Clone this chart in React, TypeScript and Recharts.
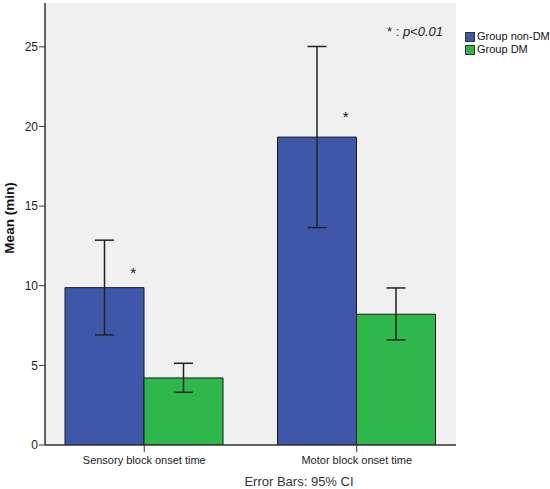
import React from 'react';
import { ComposedChart, Bar, Scatter, XAxis, YAxis, ErrorBar, CartesianGrid, Label } from 'recharts';

const categories = ['Sensory block onset time', 'Motor block onset time'];
const nonDmMean = [9.88, 19.33];
const nonDmLower = [6.91, 13.65];
const nonDmUpper = [12.86, 25.02];
const dmMean = [4.21, 8.21];
const dmLower = [3.31, 6.6];
const dmUpper = [5.13, 9.86];
const starValues = [10.99, 20.79];
const yTicks = [0, 5, 10, 15, 20, 25];
const yMax = 27.75;
const seriesNames = ['Group non-DM', 'Group DM'];
const seriesColors = ['#3F57A9', '#2EB84B'];

const data = categories.map((c, i) => ({
  category: c,
  nonDm: nonDmMean[i],
  nonDmErr: [nonDmMean[i] - nonDmLower[i], nonDmUpper[i] - nonDmMean[i]],
  dm: dmMean[i],
  dmErr: [dmMean[i] - dmLower[i], dmUpper[i] - dmMean[i]],
  star: starValues[i],
}));

const FONT = '"Liberation Sans", Arial, sans-serif';
const AXIS = '#333333';

const StarShape = (props: any) => {
  const { cx, cy } = props;
  if (cx == null || cy == null) return null;
  return (
    <text x={cx - 11} y={cy + 8} fontSize={15} fill="#111" textAnchor="middle" fontFamily={FONT}>
      *
    </text>
  );
};

export default function App() {
  return (
    <div style={{ position: 'absolute', left: 0, top: 0, width: 550, height: 489, background: '#fff', fontFamily: FONT }}>
      <ComposedChart
        width={550}
        height={489}
        data={data}
        margin={{ top: 3, right: 94, bottom: 14, left: 0 }}
        barGap={0}
        barSize={79}
      >
        <CartesianGrid fill="#F0F0F0" horizontal={false} vertical={false} />
        <XAxis
          dataKey="category"
          padding={{ left: -7, right: -7 }}
          height={30}
          tickSize={7}
          tickMargin={4}
          tick={{ fontSize: 11, fill: '#222', fontFamily: FONT }}
          axisLine={{ stroke: AXIS, strokeWidth: 1.5 }}
          tickLine={{ stroke: AXIS }}
        >
          <Label
            content={(p: any) => {
              const vb = p.viewBox;
              return (
                <text x={vb.x + vb.width / 2 + 48.5} y={vb.y + 40.5} fontSize={13} fill="#333" textAnchor="middle" fontFamily={FONT}>
                  Error Bars: 95% CI
                </text>
              );
            }}
          />
        </XAxis>
        <XAxis
          xAxisId="top"
          dataKey="category"
          orientation="top"
          height={0}
          tick={false}
          tickLine={false}
          axisLine={{ stroke: AXIS, strokeWidth: 1.2 }}
        />
        <YAxis
          domain={[0, yMax]}
          ticks={yTicks}
          width={45}
          tickSize={6}
          tickMargin={1}
          allowDataOverflow
          tick={{ fontSize: 12, fill: '#222', fontFamily: FONT }}
          axisLine={{ stroke: AXIS, strokeWidth: 1.5 }}
          tickLine={{ stroke: AXIS }}
        >
          <Label
            content={(p: any) => {
              const vb = p.viewBox;
              const cx = 9;
              const cy = vb.y + vb.height / 2 - 6;
              return (
                <text
                  x={cx}
                  y={cy}
                  transform={`rotate(-90 ${cx} ${cy})`}
                  fontSize={13.5}
                  fontWeight="bold"
                  fill="#111"
                  textAnchor="middle"
                  dominantBaseline="central"
                  fontFamily={FONT}
                >
                  Mean (min)
                </text>
              );
            }}
          />
        </YAxis>
        <YAxis
          yAxisId="right"
          orientation="right"
          domain={[0, yMax]}
          width={0}
          tick={false}
          tickLine={false}
          axisLine={{ stroke: AXIS, strokeWidth: 1.2 }}
        />
        <Bar dataKey="nonDm" name={seriesNames[0]} fill={seriesColors[0]} stroke="#1a1a1a" strokeWidth={1} isAnimationActive={false}>
          <ErrorBar dataKey="nonDmErr" width={9.5} stroke="#222" strokeWidth={1.5} direction="y" />
        </Bar>
        <Bar dataKey="dm" name={seriesNames[1]} fill={seriesColors[1]} stroke="#1a1a1a" strokeWidth={1} isAnimationActive={false}>
          <ErrorBar dataKey="dmErr" width={9.5} stroke="#222" strokeWidth={1.5} direction="y" />
        </Bar>
        <Scatter dataKey="star" shape={StarShape} isAnimationActive={false} legendType="none" />
      </ComposedChart>
      <div
        style={{
          position: 'absolute',
          right: 107,
          top: 24.5,
          fontSize: 13,
          lineHeight: '13px',
          color: '#222',
          whiteSpace: 'nowrap',
        }}
      >
        {'* : '}
        <i>p&lt;0.01</i>
      </div>
      <div style={{ position: 'absolute', left: 465, top: 30, fontSize: 11, color: '#111', lineHeight: '13px' }}>
        {seriesNames.map((n, i) => (
          <div key={n} style={{ display: 'flex', alignItems: 'center', height: 13 }}>
            <span
              style={{
                display: 'inline-block',
                width: 8,
                height: 8,
                background: seriesColors[i],
                border: '1px solid #333',
                marginRight: 2,
              }}
            />
            <span>{n}</span>
          </div>
        ))}
      </div>
    </div>
  );
}
